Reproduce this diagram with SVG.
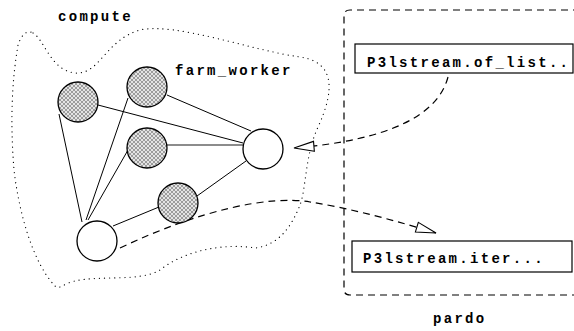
<svg xmlns="http://www.w3.org/2000/svg" width="574" height="331" viewBox="0 0 574 331">
<style>
.lbl{font-family:"Liberation Mono","DejaVu Sans Mono",monospace;font-weight:bold;font-size:14px;letter-spacing:2.3px;fill:#000}
.edge{stroke:#000;stroke-width:1;fill:none}
.node{stroke:#000;stroke-width:1.3}
.dash{stroke:#000;stroke-width:1.2;fill:none;stroke-dasharray:7 5}
</style>
<defs>
<pattern id="hatch" width="4" height="4" patternUnits="userSpaceOnUse">
<rect width="4" height="4" fill="#e4e4e4"/>
<path d="M0,0 L4,4 M4,0 L0,4" stroke="#8a8a8a" stroke-width="0.8"/>
</pattern>
<marker id="arr" markerUnits="userSpaceOnUse" markerWidth="24" markerHeight="14" refX="21" refY="6" orient="auto">
<path d="M1,1 L21,6 L1,11 Z" fill="#fff" stroke="#000" stroke-width="1.1"/>
</marker>
</defs>
<rect width="574" height="331" fill="#fff"/>
<g id="compute-region">
<path d="M33,33 C45,40 50,70 75,73 C100,75 105,40 140,30 C175,22 250,50 300,57 C335,62 335,90 318,127 C305,155 306,190 300,205 C292,225 280,245 255,248 C225,243 185,250 160,270 C140,282 100,275 75,281 C62,284 60,290 55,286 C35,265 20,220 14,170 C10,120 12,80 18,45 C22,33 28,30 33,33 Z" fill="none" stroke="#000" stroke-width="1.2" stroke-dasharray="0.1 5" stroke-linecap="round"/>
<text class="lbl" x="58" y="21">compute</text>
</g>
<g id="pardo-region">
<path d="M580,10 L350,10 Q344,10 344,16 L344,289 Q344,295 350,295 L580,295" class="dash"/>
<text class="lbl" x="433" y="323">pardo</text>
</g>
<g id="connectors">
<line class="edge" x1="98" y1="105" x2="243" y2="143"/>
<line class="edge" x1="167" y1="95" x2="251" y2="131"/>
<line x1="167" y1="145" x2="243" y2="145" stroke="#666" stroke-width="1.4"/>
<line class="edge" x1="197" y1="196" x2="246" y2="161"/>
<line class="edge" x1="82" y1="222" x2="59" y2="114"/>
<line class="edge" x1="86" y1="220" x2="128" y2="98"/>
<line class="edge" x1="88" y1="220" x2="128" y2="150"/>
<line class="edge" x1="113" y1="226" x2="159" y2="207"/>
<path class="dash" d="M448,77 C438,115 390,140 294,148" marker-end="url(#arr)"/>
<path class="dash" d="M120,248 C200,210 270,195 310,202 C350,208 400,222 436,233" marker-end="url(#arr)"/>
</g>
<g id="node-a"><circle class="node" cx="78" cy="102" r="20" fill="url(#hatch)"/></g>
<g id="node-b"><circle class="node" cx="147" cy="87" r="20" fill="url(#hatch)"/></g>
<g id="node-c"><circle class="node" cx="147" cy="148" r="20" fill="url(#hatch)"/></g>
<g id="node-e"><circle class="node" cx="178" cy="203" r="20" fill="url(#hatch)"/></g>
<g id="node-d"><circle class="node" cx="263" cy="149" r="20" fill="#fff"/></g>
<g id="node-f"><circle class="node" cx="97" cy="241" r="20" fill="#fff"/></g>
<g id="farm-worker-label"><text class="lbl" x="175" y="75">farm_worker</text></g>
<g id="of-list">
<rect x="355" y="44" width="218" height="29" fill="#fff" stroke="#000" stroke-width="1.2"/>
<text class="lbl" x="367" y="67">P3lstream.of_list..</text>
</g>
<g id="iter">
<rect x="352" y="241" width="220" height="31" fill="#fff" stroke="#000" stroke-width="1.2"/>
<text class="lbl" x="363" y="263">P3lstream.iter...</text>
</g>
</svg>
